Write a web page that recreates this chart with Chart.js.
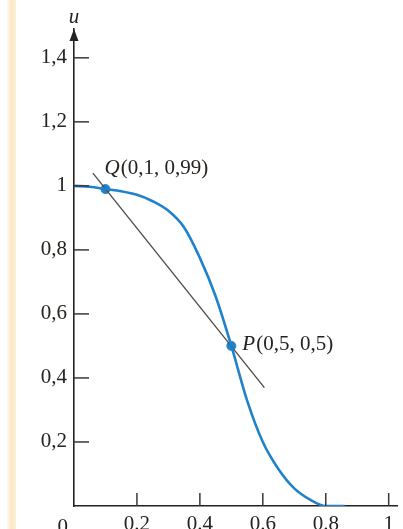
<!DOCTYPE html>
<html>
<head>
<meta charset="utf-8">
<script src="https://cdn.jsdelivr.net/npm/chart.js@4.4.1/dist/chart.umd.min.js"></script>
<style>
  html, body { margin: 0; padding: 0; background: #fff; }
  #wrap { position: relative; width: 403px; height: 529px; overflow: hidden; }
  #edge { position: absolute; left: 7px; top: 0; width: 9px; height: 529px;
          background: linear-gradient(to right, #fffaf0, #fbe7c2, #fdf1da); }
  canvas { position: absolute; left: 0; top: 0; }
</style>
</head>
<body>
<div id="wrap"><div id="edge"></div><canvas id="uCurve" width="403" height="529"></canvas></div>
<script>
// curve u(x)
const curveX = [0, 0.05, 0.1, 0.15, 0.2, 0.25, 0.3, 0.35, 0.4, 0.45, 0.5, 0.55, 0.6, 0.65, 0.7, 0.75, 0.8, 0.86];
const curveU = [1, 0.997, 0.99, 0.983, 0.972, 0.952, 0.922, 0.87, 0.775, 0.655, 0.5, 0.33, 0.2, 0.115, 0.055, 0.02, 0.0, 0.0];

// line through Q and P
const secantX = [0.06, 0.605];
const secantU = [1.04, 0.37];

// marked points
const markedX = [0.1, 0.5];
const markedU = [0.99, 0.5];
const markedNames = ['Q', 'P'];
const markedTexts = ['(0,1, 0,99)', '(0,5, 0,5)'];

// axes
const xTicks = [0.2, 0.4, 0.6, 0.8, 1];
const xTickLabels = ['0.2', '0.4', '0.6', '0.8', '1'];
const yTicks = [0.2, 0.4, 0.6, 0.8, 1, 1.2, 1.4];
const yTickLabels = ['0,2', '0,4', '0,6', '0,8', '1', '1,2', '1,4'];

const blue = '#1f82cb';
const ink = '#25221f';
const serif = '"Liberation Serif", "DejaVu Serif", serif';

function labelFor(value, ticks, labels) {
    const i = ticks.findIndex(t => Math.abs(t - value) < 1e-6);
    return i >= 0 ? labels[i] : '';
}

const extras = {
    id: 'extras',
    afterDraw(chart) {
        const c = chart.ctx;
        const xs = chart.scales.x;
        const ys = chart.scales.y;
        const x0 = xs.getPixelForValue(0);
        const y0 = ys.getPixelForValue(0);

        c.save();
        c.strokeStyle = '#3a3734';
        c.lineWidth = 1.5;
        // tick marks, drawn inward
        yTicks.forEach(v => {
            const y = ys.getPixelForValue(v);
            c.beginPath(); c.moveTo(x0, y); c.lineTo(x0 + 15, y); c.stroke();
        });
        xTicks.forEach(v => {
            const x = xs.getPixelForValue(v);
            c.beginPath(); c.moveTo(x, y0); c.lineTo(x, y0 - 13); c.stroke();
        });

        // arrow on top of u axis
        const top = chart.chartArea.top;
        c.fillStyle = ink;
        c.beginPath();
        c.moveTo(x0, top);
        c.lineTo(x0 - 4.5, top + 12);
        c.lineTo(x0 + 4.5, top + 12);
        c.closePath();
        c.fill();

        // axis name
        c.font = 'italic 21px ' + serif;
        c.textAlign = 'center';
        c.textBaseline = 'alphabetic';
        c.fillText('u', x0, top - 6);

        // origin
        c.font = '21px ' + serif;
        c.textAlign = 'right';
        c.fillText('0', x0 - 6, y0 + 27);

        // point labels
        const offs = [[-1, -15], [11, 4]];
        markedX.forEach((mx, i) => {
            let px = xs.getPixelForValue(mx) + offs[i][0];
            const py = ys.getPixelForValue(markedU[i]) + offs[i][1];
            c.textAlign = 'left';
            c.font = 'italic 21px ' + serif;
            c.fillText(markedNames[i], px, py);
            px += c.measureText(markedNames[i]).width + 1;
            c.font = '21px ' + serif;
            c.fillText(markedTexts[i], px, py);
        });
        c.restore();
    }
};

new Chart(document.getElementById('uCurve'), {
    type: 'line',
    data: {
        datasets: [
            {
                data: curveX.map((x, i) => ({ x: x, y: curveU[i] })),
                borderColor: blue,
                borderWidth: 2.6,
                pointRadius: 0,
                cubicInterpolationMode: 'monotone',
                fill: false
            },
            {
                data: secantX.map((x, i) => ({ x: x, y: secantU[i] })),
                borderColor: '#4a4744',
                borderWidth: 1.3,
                pointRadius: 0,
                fill: false
            },
            {
                data: markedX.map((x, i) => ({ x: x, y: markedU[i] })),
                showLine: false,
                pointRadius: 4.5,
                pointBackgroundColor: blue,
                pointBorderColor: blue
            }
        ]
    },
    options: {
        responsive: false,
        animation: false,
        devicePixelRatio: 1,
        layout: { padding: { top: 29, right: 0, left: 0, bottom: 0 } },
        plugins: { legend: { display: false }, tooltip: { enabled: false } },
        scales: {
            x: {
                type: 'linear',
                min: 0,
                max: 1.028,
                z: 1,
                afterFit(scale) { scale.height = 23; },
                grid: { display: false, drawTicks: false },
                border: { display: true, color: ink, width: 1.6 },
                ticks: {
                    stepSize: 0.2,
                    includeBounds: false,
                    padding: 6,
                    maxRotation: 0,
                    autoSkip: false,
                    color: ink,
                    font: { family: serif, size: 21 },
                    callback: v => labelFor(v, xTicks, xTickLabels)
                }
            },
            y: {
                type: 'linear',
                min: 0,
                max: 1.49,
                z: 1,
                afterFit(scale) { scale.width = 74; },
                grid: { display: false, drawTicks: false },
                border: { display: true, color: ink, width: 1.6 },
                ticks: {
                    stepSize: 0.2,
                    includeBounds: false,
                    padding: 7,
                    autoSkip: false,
                    color: ink,
                    font: { family: serif, size: 21 },
                    callback: v => labelFor(v, yTicks, yTickLabels)
                }
            }
        }
    },
    plugins: [extras]
});
</script>
</body>
</html>
